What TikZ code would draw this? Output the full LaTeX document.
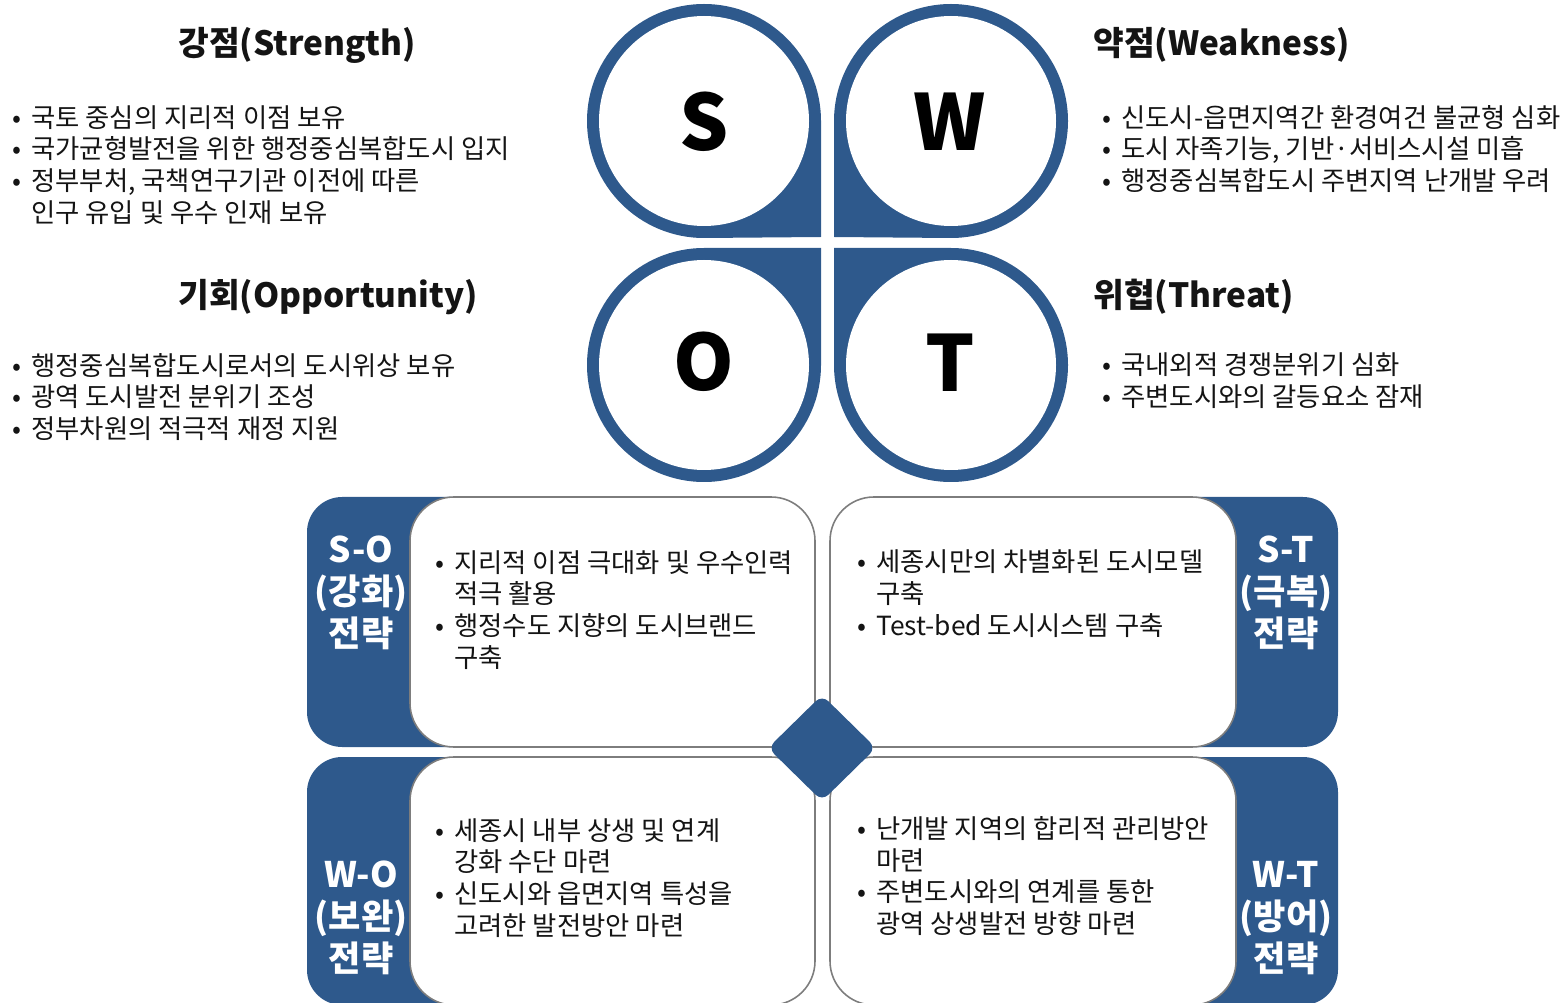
\documentclass[tikz,border=0pt]{standalone}
\usepackage{fontspec}
\setmainfont{Noto Sans CJK KR}
\usepackage{tikz}
\definecolor{swotblue}{RGB}{46,89,140}
\definecolor{boxgray}{RGB}{125,125,125}
\definecolor{txt}{RGB}{20,20,20}
\newcommand{\bu}{\makebox[0.72em][l]{•}}
\newcommand{\ind}{\hspace*{0.72em}}

\begin{document}
\begin{tikzpicture}[x=0.02cm,y=0.02cm,
  heading/.style={anchor=west,inner sep=0pt,text=txt,font=\fontsize{19}{23}\selectfont\bfseries},
  itemtext/.style={anchor=west,inner sep=0pt,align=left,text=txt,font=\fontsize{15}{18.14}\selectfont},
  tablabel/.style={inner sep=0pt,align=center,text=white,font=\fontsize{20}{23.8}\selectfont\bfseries},
  letter/.style={inner sep=0pt,text=black,font=\fontsize{44}{44}\selectfont\bfseries},
  wbox/.style={draw=boxgray,line width=0.9pt,fill=white,rounded corners=25pt},
  tabfill/.style={fill=swotblue,rounded corners=20pt}]

  \useasboundingbox (0,0) rectangle (1566,-1003);

  % four quarter drops
  \fill[swotblue] (821,-237) -- (821,-121) arc[start angle=0,end angle=270,radius=117] -- cycle;
  \fill[swotblue] (834,-237) -- (834,-121) arc[start angle=180,end angle=-90,radius=117] -- cycle;
  \fill[swotblue] (821,-248) -- (704,-248) arc[start angle=90,end angle=360,radius=117] -- cycle;
  \fill[swotblue] (834,-248) -- (951,-248) arc[start angle=90,end angle=-180,radius=117] -- cycle;
  \fill[white] (704,-121) circle[radius=105];
  \fill[white] (951,-121) circle[radius=105];
  \fill[white] (704,-365) circle[radius=105];
  \fill[white] (951,-365) circle[radius=105];

  \node[letter] (S) at (704,-122) {S};
  \node[letter] (W) at (950,-122) {W};
  \node[letter] (O) at (704,-362) {O};
  \node[letter] (T) at (950,-363) {T};

  % headings and lists
  \node[heading] (sHead) at (178,-45) {강점(Strength)};
  \node[itemtext] (sList) at (12,-165) {\bu 국토 중심의 지리적 이점 보유\\
    \bu 국가균형발전을 위한 행정중심복합도시 입지\\
    \bu 정부부처, 국책연구기관 이전에 따른\\
    \ind 인구 유입 및 우수 인재 보유};

  \node[heading] (wHead) at (1093,-45) {약점(Weakness)};
  \node[itemtext] (wList) at (1102,-149) {\bu 신도시-읍면지역간 환경여건 불균형 심화\\
    \bu 도시 자족기능, 기반·서비스시설 미흡\\
    \bu 행정중심복합도시 주변지역 난개발 우려};

  \node[heading] (oHead) at (178,-297) {기회(Opportunity)};
  \node[itemtext] (oList) at (12,-397) {\bu 행정중심복합도시로서의 도시위상 보유\\
    \bu 광역 도시발전 분위기 조성\\
    \bu 정부차원의 적극적 재정 지원};

  \node[heading] (tHead) at (1093,-297) {위협(Threat)};
  \node[itemtext] (tList) at (1102,-381) {\bu 국내외적 경쟁분위기 심화\\
    \bu 주변도시와의 갈등요소 잠재};

  % strategy boxes
  \fill[tabfill] (307,-497) rectangle (500,-747);
  \fill[tabfill] (1145,-497) rectangle (1338,-747);
  \fill[tabfill] (307,-757) rectangle (500,-1005);
  \fill[tabfill] (1145,-757) rectangle (1338,-1005);

  \draw[wbox] (410,-497) rectangle (815,-747);
  \draw[wbox] (830,-497) rectangle (1236,-747);
  \draw[wbox] (410,-757) rectangle (815,-1005);
  \draw[wbox] (830,-757) rectangle (1236,-1005);

  \fill[swotblue,rounded corners=5pt] (822,-695) -- (876,-748) -- (822,-801) -- (768,-748) -- cycle;

  \node[tablabel] (soTab) at (361,-593) {S-O\\(강화)\\전략};
  \node[tablabel] (stTab) at (1286,-593) {S-T\\(극복)\\전략};
  \node[tablabel] (woTab) at (361,-918) {W-O\\(보완)\\전략};
  \node[tablabel] (wtTab) at (1286,-918) {W-T\\(방어)\\전략};

  \node[itemtext] (soList) at (435,-610) {\bu 지리적 이점 극대화 및 우수인력\\
    \ind 적극 활용\\
    \bu 행정수도 지향의 도시브랜드\\
    \ind 구축};
  \node[itemtext] (stList) at (857,-594) {\bu 세종시만의 차별화된 도시모델\\
    \ind 구축\\
    \bu Test-bed 도시시스템 구축};
  \node[itemtext] (woList) at (435,-878) {\bu 세종시 내부 상생 및 연계\\
    \ind 강화 수단 마련\\
    \bu 신도시와 읍면지역 특성을\\
    \ind 고려한 발전방안 마련};
  \node[itemtext] (wtList) at (857,-876) {\bu 난개발 지역의 합리적 관리방안\\
    \ind 마련\\
    \bu 주변도시와의 연계를 통한\\
    \ind 광역 상생발전 방향 마련};

\end{tikzpicture}
\end{document}
